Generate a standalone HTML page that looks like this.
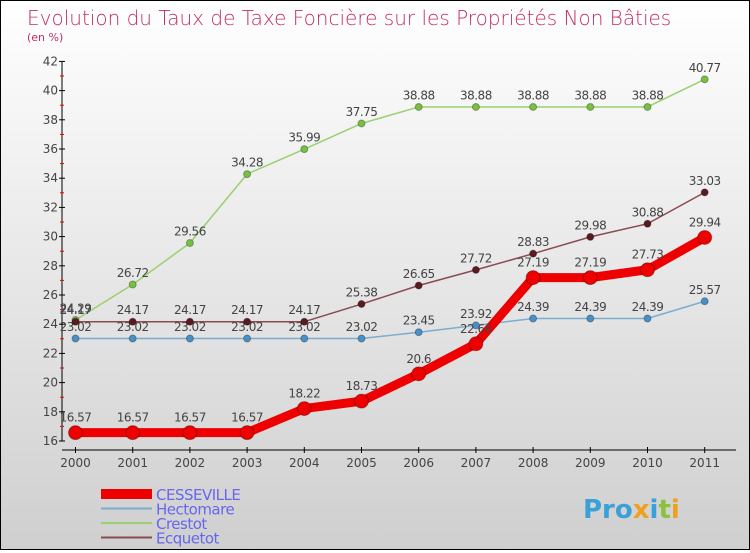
<!DOCTYPE html>
<html><head><meta charset="utf-8"><style>
body{margin:0}
#c{width:748px;height:548px;border:1px solid #000;background:linear-gradient(#ffffff,#cfcfcf);position:relative;font-family:"DejaVu Sans","Liberation Sans",sans-serif}
</style></head><body>
<div id="c">
<svg id="s" width="748" height="548" xmlns="http://www.w3.org/2000/svg">
<text x="26" y="24" font-size="20" fill="#c0305e" font-family="DejaVu Sans,sans-serif" font-weight="200">Evolution du Taux de Taxe Foncière sur les Propriétés Non Bâties</text>
<text x="26" y="40" font-size="11" fill="#c0305e">(en %)</text>
<g id="axes"></g><g id="series"></g><g id="legend"></g>
<text x="582" y="517" font-size="26" font-weight="bold" fill="#3aa0d8">Pro<tspan fill="#f0a020">x</tspan><tspan fill="#3aa0d8">i</tspan><tspan fill="#8cc040">t</tspan><tspan fill="#f0a020">i</tspan></text>
</svg></div>
<script>
const years=["2000","2001","2002","2003","2004","2005","2006","2007","2008","2009","2010","2011"];
const yTicks=[16,18,20,22,24,26,28,30,32,34,36,38,40,42];
const cesseville=[16.57,16.57,16.57,16.57,18.22,18.73,20.6,22.66,27.19,27.19,27.73,29.94];
const hectomare=[23.02,23.02,23.02,23.02,23.02,23.02,23.45,23.92,24.39,24.39,24.39,25.57];
const crestot=[24.29,26.72,29.56,34.28,35.99,37.75,38.88,38.88,38.88,38.88,38.88,40.77];
const ecquetot=[24.17,24.17,24.17,24.17,24.17,25.38,26.65,27.72,28.83,29.98,30.88,33.03];
const NS="http://www.w3.org/2000/svg";
const X=i=>74.5+i*57.2, Y=v=>440-(v-16)*14.6;
function mk(t,a,p){const e=document.createElementNS(NS,t);for(const k in a)e.setAttribute(k,a[k]);p.appendChild(e);return e;}
const ax=document.getElementById('axes');
const ya=mk('line',{x1:61,y1:Y(42),x2:61,y2:Y(16),stroke:'#000'},ax);

const xa=mk('line',{x1:61,y1:449,x2:735,y2:449,stroke:'#000'},ax);

yTicks.forEach(v=>{mk('line',{x1:58,y1:Y(v),x2:64,y2:Y(v),stroke:'#000'},ax);
 if(v<42)mk('line',{x1:59,y1:Y(v+1),x2:63,y2:Y(v+1),stroke:'#e00'},ax);
 const t=mk('text',{x:57,y:Y(v)+4,'font-size':12,'text-anchor':'end',fill:'#444'},ax);t.textContent=v;
 });
years.forEach((y,i)=>{mk('line',{x1:X(i),y1:446,x2:X(i),y2:452,stroke:'#000'},ax);
 const t=mk('text',{x:X(i),y:466,'font-size':12,'text-anchor':'middle',fill:'#444'},ax);t.textContent=y;
 });
const sg=document.getElementById('series');
function draw(vals,color,dot,w,r,name){
 const g=mk('g',{},sg);
 const l=mk('polyline',{points:vals.map((v,i)=>X(i)+','+Y(v)).join(' '),fill:'none',stroke:color,'stroke-width':w,'stroke-linejoin':'round'},g);
 
 vals.forEach((v,i)=>{const c=mk('circle',{cx:X(i),cy:Y(v),r:r,fill:dot,stroke:'rgba(0,0,0,0.3)'},g);
  
  const t=mk('text',{x:X(i),y:Y(v)-r-4,'font-size':12,'text-anchor':'middle',fill:'#444','letter-spacing':'-0.5'},g);t.textContent=v;
  });
}
draw(hectomare,'#7aaed0','#4a90c8',1.5,3.5,'hectomare');
draw(crestot,'#9ad070','#78c040',1.5,3.5,'crestot');
draw(ecquetot,'#8a4a50','#5a1a20',1.5,3.5,'ecquetot');
draw(cesseville,'#ee0000','#ee0000',9,7,'cesseville');
const lg=document.getElementById('legend');
[['CESSEVILLE','#ee0000',10],['Hectomare','#7aaed0',2],['Crestot','#9ad070',2],['Ecquetot','#8a4a50',2]].forEach((e,i)=>{
 const y=493+i*14.5;
 const g=mk('g',{},lg);
 mk('line',{x1:100,y1:y,x2:151,y2:y,stroke:e[1],'stroke-width':e[2]},g);
 const t=mk('text',{x:155,y:y+6,'font-size':15,fill:'#6666ee','letter-spacing':'-0.5'},g);t.textContent=e[0];
});
</script></body></html>
